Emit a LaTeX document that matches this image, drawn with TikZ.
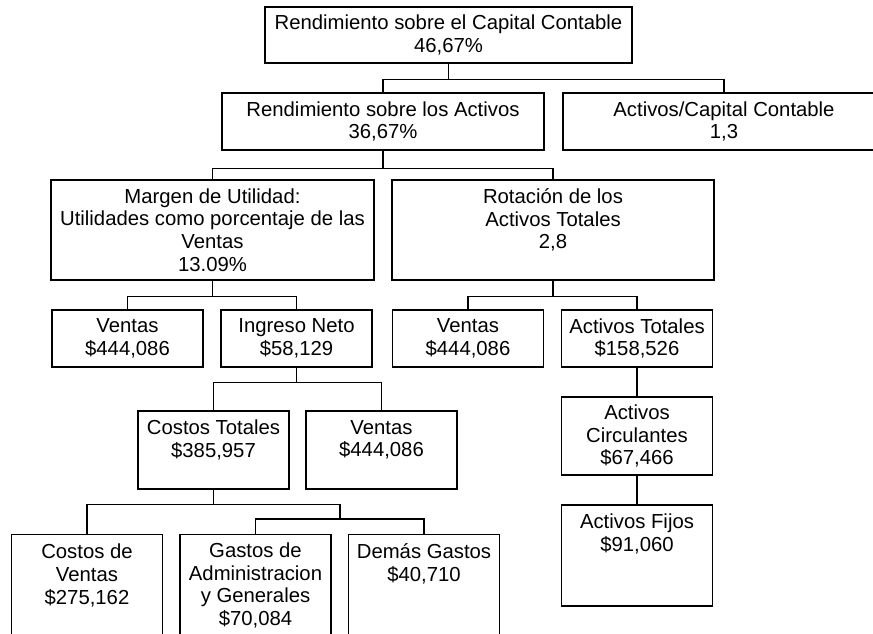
\documentclass[tikz,border=0pt]{standalone}
\usepackage{fontspec}
\setmainfont{Liberation Sans}
\newcommand{\boxfont}{\fontsize{20.3}{22.7}\selectfont}

\begin{document}
\begin{tikzpicture}
	[x=1pt,y=-1pt,line width=1.3pt,
	every node/.style={draw,rectangle,align=center,inner sep=2pt,font=\boxfont},
	wide/.style={minimum width=322pt,minimum height=57pt},
	big/.style={minimum width=323pt,minimum height=100pt},
	small/.style={minimum width=151pt,minimum height=57pt},
	mid/.style={minimum width=151pt,minimum height=78pt},
	tall/.style={minimum width=151pt,minimum height=102pt}]
	\useasboundingbox (0,0) rectangle (873,633);
	\clip (0,0) rectangle (873,633);

	\node[minimum width=367pt,minimum height=56pt] (roe) at (448.5,35) {Rendimiento sobre el Capital Contable\\46,67\%};
	\node[wide] (roa) at (383,121.5) {Rendimiento sobre los Activos\\36,67\%};
	\node[wide] (apc) at (724,121.5) {Activos/Capital Contable\\1,3};
	\node[big] (margen) at (212.5,230) {Margen de Utilidad:\\Utilidades como porcentaje de las\\Ventas\\13.09\%};
	\node[big,minimum width=322pt] (rot) at (553,230) {Rotación de los\\Activos Totales\\2,8\\~};
	\node[small] (ventasA) at (127.5,338.5) {Ventas\\\$444,086};
	\node[small] (ingreso) at (296.5,338.5) {Ingreso Neto\\\$58,129};
	\node[small] (ventasB) at (468,338.5) {Ventas\\\$444,086};
	\node[small] (totales) at (637,338.5) {Activos Totales\\\$158,526};
	\node[mid] (costos) at (213.5,450) {Costos Totales\\\$385,957\\~};
	\node[mid] (ventasC) at (381.5,450) {Ventas\\\$444,086\\~};
	\node[mid] (circ) at (637,436) {Activos\\Circulantes\\\$67,466};
	\node[tall,minimum height=101pt] (fijos) at (637,555.5) {Activos Fijos\\\$91,060\\~\\~};
	\node[tall] (cventas) at (87,585.5) {Costos de\\Ventas\\\$275,162\\~};
	\node[tall] (gastos) at (255.5,585.5) {Gastos de\\Administracion\\y Generales\\\$70,084};
	\node[tall] (demas) at (424,585.5) {Demás Gastos\\\$40,710\\~\\~};
	\coordinate (gbus) at (340,519);

	\foreach \a/\b/\dy in {roe/roa/16,roe/apc/16,roa/margen/18,roa/rot/18,margen/ventasA/16,margen/ingreso/16,rot/ventasB/16,rot/totales/16,ingreso/costos/15,ingreso/ventasC/15,costos/cventas/15}
	\draw (\a.south) -- ++(0,\dy) -| (\b.north);
	\draw (costos.south) ++(0,15) -| (gbus);
	\foreach \b in {gastos,demas}
	\draw (gbus) -| (\b.north);
	\draw (totales.south) -- (circ.north);
	\draw (circ.south) -- (fijos.north);
\end{tikzpicture}
\end{document}
